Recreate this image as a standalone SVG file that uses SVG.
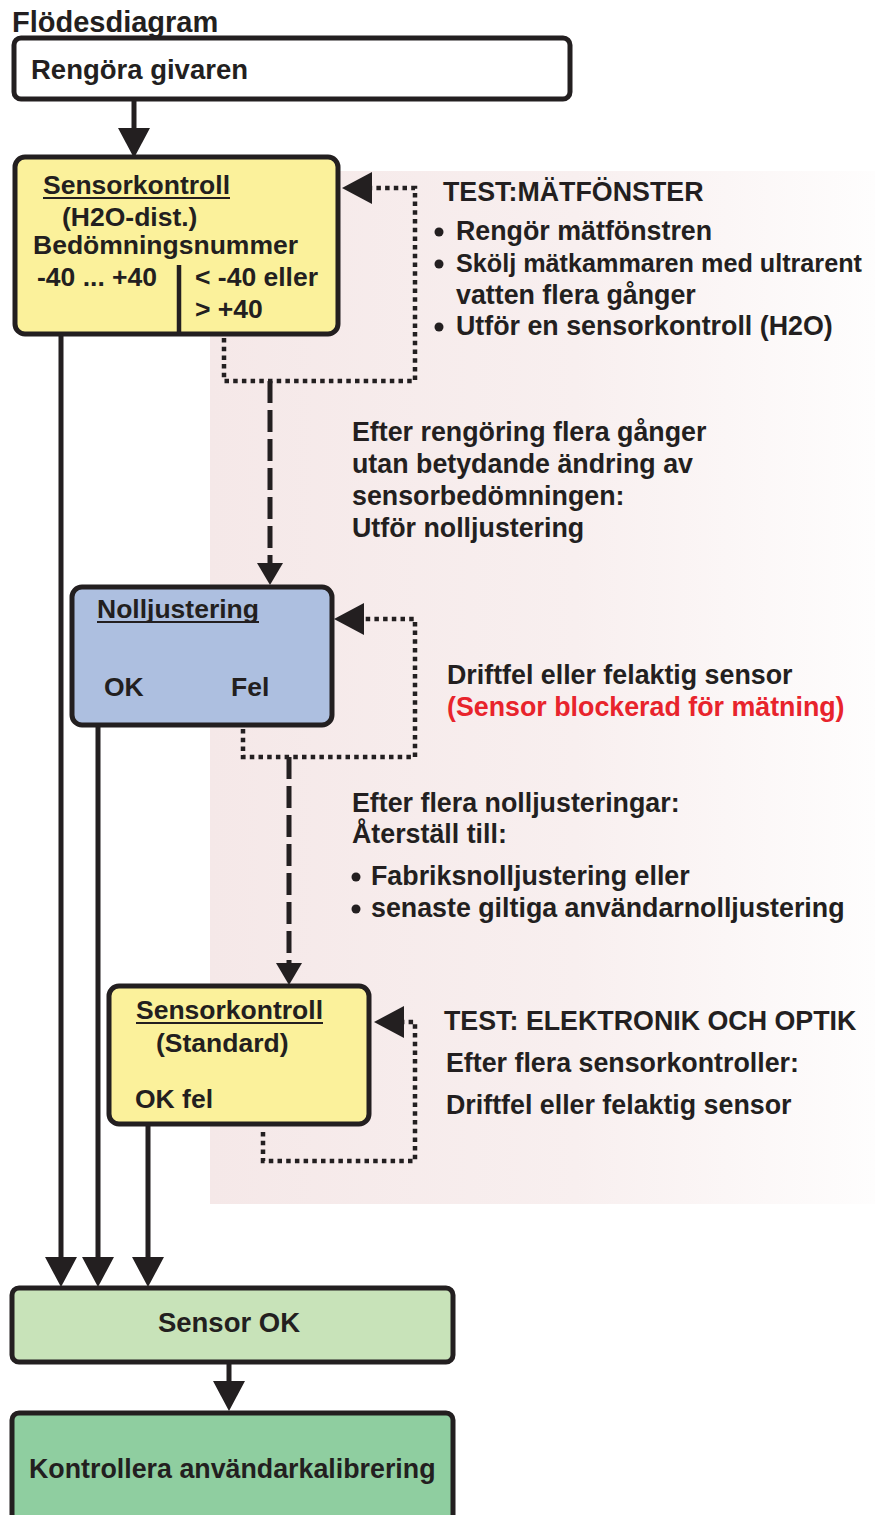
<svg xmlns="http://www.w3.org/2000/svg" width="875" height="1515" viewBox="0 0 875 1515">
<defs>
<linearGradient id="bg" x1="210" y1="0" x2="875" y2="0" gradientUnits="userSpaceOnUse">
<stop offset="0" stop-color="#f5e8e8"/>
<stop offset="0.55" stop-color="#f8efef"/>
<stop offset="1" stop-color="#fefdfd"/>
</linearGradient>
<marker id="ah" viewBox="0 0 30 32" markerWidth="30" markerHeight="32" refX="0" refY="16" orient="auto" markerUnits="userSpaceOnUse">
<path d="M0,0 L30,16 L0,32 z" fill="#231f20"/>
</marker>
<marker id="ahs" viewBox="0 0 22 26" markerWidth="22" markerHeight="26" refX="0" refY="13" orient="auto" markerUnits="userSpaceOnUse">
<path d="M0,0 L22,13 L0,26 z" fill="#231f20"/>
</marker>
</defs>
<style>
text{font-family:"Liberation Sans",Arial,Helvetica,sans-serif;font-weight:bold;font-size:26.5px;fill:#231f20}
.rt{font-size:26.8px}
.r{fill:#e8242c}
.box{stroke:#231f20;stroke-width:5}
.solid{fill:none;stroke:#231f20;stroke-width:5}
.dot{fill:none;stroke:#231f20;stroke-width:4.5;stroke-dasharray:4.5 4.2}
.dash{fill:none;stroke:#231f20;stroke-width:5;stroke-dasharray:22 7}
.ul{stroke:#231f20;stroke-width:2}
.bul{fill:#231f20}
</style>
<rect x="210" y="171" width="665" height="1033" fill="url(#bg)"/>
<text x="12" y="32" style="font-size:29px">Flödesdiagram</text>

<g id="connectors">
<path class="solid" d="M134,99 V128" marker-end="url(#ah)"/>
<path class="solid" d="M61,334 V1257" marker-end="url(#ah)"/>
<path class="solid" d="M98,725 V1257" marker-end="url(#ah)"/>
<path class="solid" d="M148,1124 V1257" marker-end="url(#ah)"/>
<path class="solid" d="M229,1362 V1381" marker-end="url(#ah)"/>
<path class="dot" d="M224,338 V381 H415 V188 H372" marker-end="url(#ah)"/>
<path class="dash" d="M270,381 V563" marker-end="url(#ahs)"/>
<path class="dot" d="M243,729 V757 H415 V619 H364" marker-end="url(#ah)"/>
<path class="dash" d="M289,757 V963" marker-end="url(#ahs)"/>
<path class="dot" d="M263,1132 V1161 H415 V1022 H404" marker-end="url(#ah)"/>
</g>

<g id="n-rengora">
<rect class="box" x="14" y="38" width="556" height="61" rx="7" fill="#ffffff"/>
<text x="31" y="79" style="font-size:27.5px">Rengöra givaren</text>
</g>

<g id="n-sensorkontroll-h2o">
<rect class="box" x="15" y="157" width="323" height="177" rx="10" fill="#fbf19b"/>
<text x="43" y="194">Sensorkontroll</text>
<line class="ul" x1="43" y1="198" x2="230" y2="198"/>
<text x="62" y="226">(H2O-dist.)</text>
<text x="33" y="254">Bedömningsnummer</text>
<text x="37" y="286">-40 ... +40</text>
<line x1="179" y1="265" x2="179" y2="334" stroke="#231f20" stroke-width="4.5"/>
<text x="195" y="286">&lt; -40 eller</text>
<text x="195" y="318">&gt; +40</text>
</g>

<g id="t-test-matfonster">
<text class="rt" x="443" y="201">TEST:MÄTFÖNSTER</text>
<circle class="bul" cx="439" cy="232" r="4.5"/>
<text class="rt" x="456" y="240">Rengör mätfönstren</text>
<circle class="bul" cx="439" cy="264" r="4.5"/>
<text x="456" y="272" style="font-size:25.2px">Skölj mätkammaren med ultrarent</text>
<text class="rt" x="456" y="304">vatten flera gånger</text>
<circle class="bul" cx="439" cy="327" r="4.5"/>
<text class="rt" x="456" y="335">Utför en sensorkontroll (H2O)</text>
</g>

<g id="t-efter-rengoring">
<text class="rt" x="352" y="441">Efter rengöring flera gånger</text>
<text class="rt" x="352" y="473">utan betydande ändring av</text>
<text class="rt" x="352" y="505">sensorbedömningen:</text>
<text class="rt" x="352" y="537">Utför nolljustering</text>
</g>

<g id="n-nolljustering">
<rect class="box" x="72" y="587" width="260" height="138" rx="10" fill="#adbfe0"/>
<text x="97" y="618">Nolljustering</text>
<line class="ul" x1="97" y1="622" x2="259" y2="622"/>
<text x="104" y="696">OK</text>
<text x="231" y="696">Fel</text>
</g>

<g id="t-driftfel">
<text class="rt" x="447" y="684">Driftfel eller felaktig sensor</text>
<text class="rt r" x="447" y="716">(Sensor blockerad för mätning)</text>
</g>

<g id="t-efter-nolljusteringar">
<text class="rt" x="352" y="812">Efter flera nolljusteringar:</text>
<text class="rt" x="352" y="843">Återställ till:</text>
<circle class="bul" cx="356" cy="877" r="4.5"/>
<text class="rt" x="371" y="885">Fabriksnolljustering eller</text>
<circle class="bul" cx="356" cy="909" r="4.5"/>
<text class="rt" x="371" y="917">senaste giltiga användarnolljustering</text>
</g>

<g id="n-sensorkontroll-standard">
<rect class="box" x="109" y="986" width="260" height="138" rx="10" fill="#fbf19b"/>
<text x="136" y="1019">Sensorkontroll</text>
<line class="ul" x1="136" y1="1023" x2="323" y2="1023"/>
<text x="156" y="1052">(Standard)</text>
<text x="135" y="1108">OK fel</text>
</g>

<g id="t-test-elektronik">
<text class="rt" x="444" y="1030">TEST: ELEKTRONIK OCH OPTIK</text>
<text class="rt" x="446" y="1072">Efter flera sensorkontroller:</text>
<text class="rt" x="446" y="1114">Driftfel eller felaktig sensor</text>
</g>

<g id="n-sensor-ok">
<rect class="box" x="12" y="1288" width="441" height="74" rx="7" fill="#c8e3b9"/>
<text x="229" y="1332" text-anchor="middle" style="font-size:27.5px">Sensor OK</text>
</g>

<g id="n-kontrollera">
<rect class="box" x="12" y="1413" width="441" height="120" rx="7" fill="#8fcea0"/>
<text x="29" y="1478" style="font-size:26.8px">Kontrollera användarkalibrering</text>
</g>
</svg>
